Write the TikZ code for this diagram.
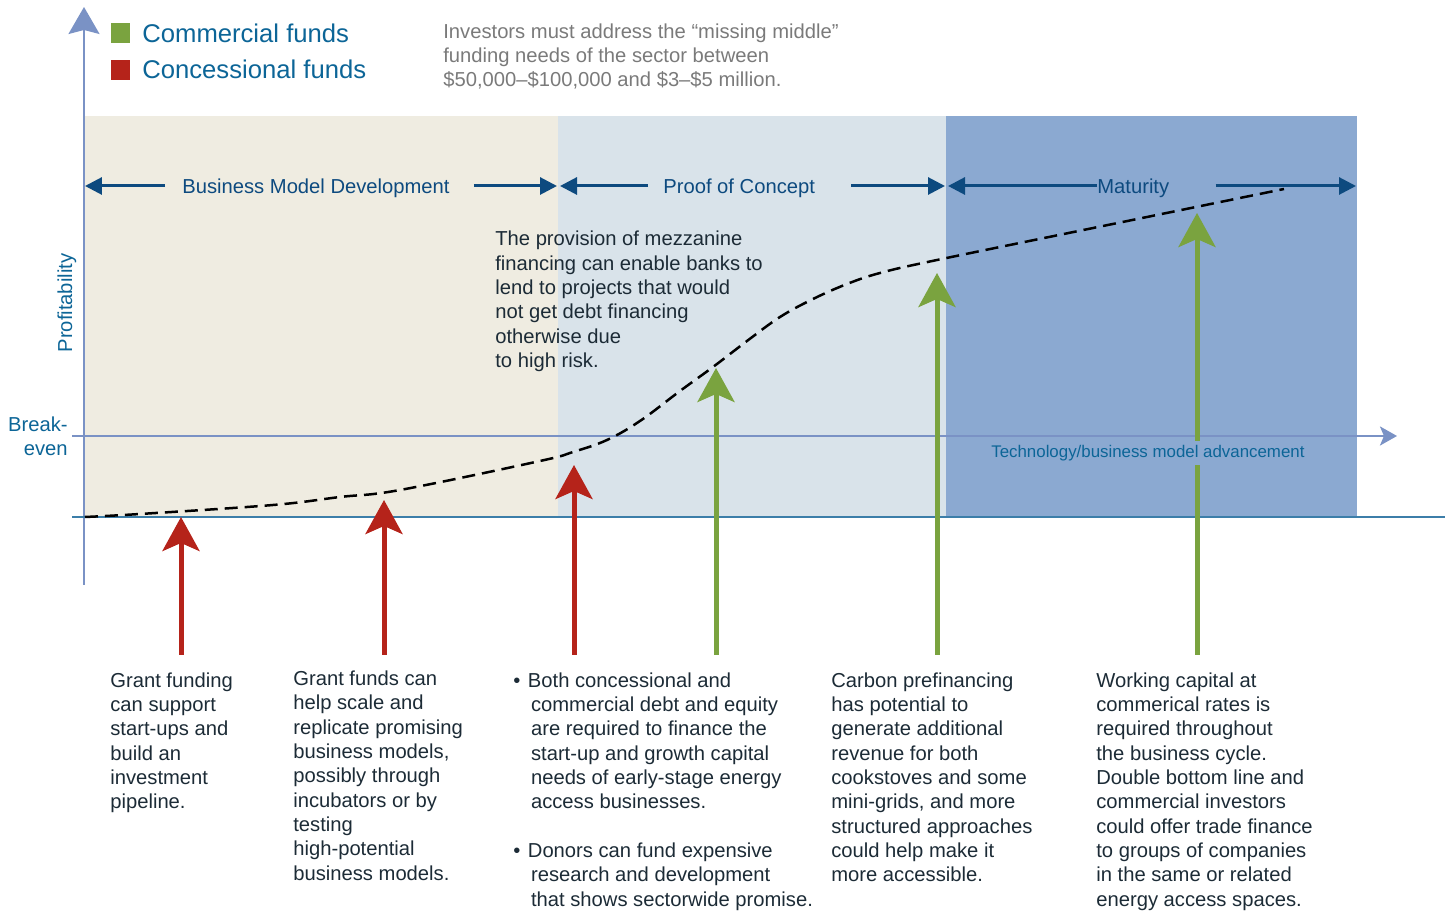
\documentclass[tikz,border=0pt]{standalone}
\usepackage{fontspec}
\setmainfont{Liberation Sans}
\usetikzlibrary{arrows.meta}

\definecolor{bmdbg}{HTML}{EFECE1}
\definecolor{pocbg}{HTML}{D9E3EA}
\definecolor{matbg}{HTML}{8BA9D1}
\definecolor{axisblue}{HTML}{7A92C5}
\definecolor{zeroteal}{HTML}{3C7EA9}
\definecolor{stageblue}{HTML}{0D4A7F}
\definecolor{labelblue}{HTML}{0C6597}
\definecolor{fundred}{HTML}{B5231A}
\definecolor{fundgreen}{HTML}{7AA33F}
\definecolor{notegray}{HTML}{7A7A7A}
\definecolor{inkdark}{HTML}{1C2B36}

\tikzset{blurb/.style={text=inkdark, font=\fontsize{11.5}{13.85}\selectfont,
        align=left, inner sep=0pt, anchor=north west},
    header/.style={blurb, text=notegray, font=\fontsize{11.5}{13.7}\selectfont},
    stagelabel/.style={text=stageblue, font=\fontsize{11.5}{13.7}\selectfont,
        inner sep=0pt, anchor=west, text height=0.29cm, text depth=0pt},
    stagearrow/.style={draw=stageblue, line width=0.06cm,
        -{Triangle[length=0.34cm,width=0.34cm]}},
    axisline/.style={draw=axisblue, line width=0.04cm},
    axislabel/.style={text=labelblue, font=\fontsize{11.5}{13.7}\selectfont, inner sep=0pt},
    zeroline/.style={draw=zeroteal, line width=0.04cm},
    fundarrow/.style={line width=0.1cm, -{Stealth[length=0.68cm,width=0.74cm,inset=0.16cm]}},
    legendbox/.style={minimum width=0.38cm, minimum height=0.4cm, inner sep=0pt},
    legendtext/.style={text=labelblue, font=\fontsize{14.6}{17}\selectfont,
        inner sep=0pt, anchor=base west},
    growthcurve/.style={line width=0.05cm, dash pattern=on 0.26cm off 0.14cm},
    }

\begin{document}
\begin{tikzpicture}[x=0.02cm, y=-0.02cm]
\useasboundingbox (0,0) rectangle (1448,911);
% stage backgrounds
\fill[bmdbg] (85,116) rectangle (558,517);
\fill[pocbg] (558,116) rectangle (946,517);
\fill[matbg] (946,116) rectangle (1357,517);

% axes
\coordinate (yfoot) at (84,585);
\coordinate (ytip) at (84,7);
\coordinate (beL) at (72,436);
\coordinate (beR) at (1397,436);
\coordinate (zeroL) at (72,517);
\coordinate (zeroR) at (1445,517);
\draw[axisline, -{Stealth[length=0.54cm,width=0.62cm,inset=0.08cm]}] (yfoot) -- (ytip);
\draw[axisline, line width=0.055cm, -{Stealth[length=0.34cm,width=0.38cm,inset=0.08cm]}] (beL) -- (beR);
\draw[zeroline] (zeroL) -- (zeroR);
\node[axislabel, rotate=90, anchor=base] (profit) at (72,303) {Profitability};
\node[axislabel, align=right, anchor=east] (breakeven) at (68,436) {Break-\\even};

% legend
\node[legendbox, fill=fundgreen] (commbox) at (120.5,33) {};
\node[legendbox, fill=fundred] (concbox) at (120.5,70) {};
\node[legendtext] (commtext) at (142,42.3) {Commercial funds};
\node[legendtext] (conctext) at (142,79) {Concessional funds};
\node[header] (gap) at (443,23.5) {Investors must address the “missing middle”\\
    funding needs of the sector between\\ \$50,000–\$100,000 and \$3–\$5 million.};

% stages
\coordinate (bmd-l) at (85,186);
\coordinate (bmd-r) at (557,186);
\coordinate (poc-l) at (560,186);
\coordinate (poc-r) at (945,186);
\coordinate (mat-l) at (948,186);
\coordinate (mat-r) at (1356,186);
\node[stagelabel] (bmd) at (182,186) {Business Model Development};
\node[stagelabel] (poc) at (663,186) {Proof of Concept};
\node[stagelabel] (mat) at (1097,186) {Maturity};
\draw[stagearrow] ([xshift=-0.34cm]bmd.west) -- (bmd-l);
\draw[stagearrow] ([xshift=0.48cm]bmd.east) -- (bmd-r);
\draw[stagearrow] ([xshift=-0.3cm]poc.west) -- (poc-l);
\draw[stagearrow] ([xshift=0.72cm]poc.east) -- (poc-r);
\draw[stagearrow] (mat.west) -- (mat-l);
\draw[stagearrow] ([xshift=0.92cm]mat.east) -- (mat-r);

% funding arrows
\foreach \x/\y/\col [count=\i] in {181/517/fundred, 384/500/fundred, 574/465/fundred,
    716/368/fundgreen, 937/273/fundgreen, 1197/213/fundgreen}{
    \coordinate (foot\i) at (\x,655);
    \coordinate (tip\i) at (\x,\y);
    \draw[fundarrow, draw=\col] (foot\i) -- (tip\i);
}
\node[text=labelblue, font=\fontsize{9.6}{11}\selectfont, fill=matbg, inner xsep=0.04cm,
    inner ysep=0.08cm, anchor=base west] (advance) at (989,457.5) {Technology/business model advancement};

% growth curve
\draw[growthcurve] plot[smooth, tension=0.6] coordinates {(85,517) (140,514) (273,505) (340,497)
    (400,490) (540,461) (573,452) (607,440) (640,421) (680,391) (713,367) (747,341) (780,317)
    (813,299) (847,284) (880,273) (937,260) (1125,221.5) (1284,189)};

% texts
\node[blurb] (mezz) at (495,231) {The provision of mezzanine\\ financing can enable banks to\\
    lend to projects that would\\ not get debt financing\\ otherwise due\\ to high risk.};
\node[blurb] (grant1) at (110,672.3) {Grant funding\\ can support\\ start-ups and\\ build an\\
    investment\\ pipeline.};
\node[blurb] (grant2) at (293,670.5) {Grant funds can\\ help scale and\\ replicate promising\\
    business models,\\ possibly through\\ incubators or by\\ testing\\ high-potential\\ business models.};
\node[blurb] (mixed) at (513,672.3) {•\hspace{0.15cm}Both concessional and\\
    \hspace*{0.354cm}commercial debt and equity\\ \hspace*{0.354cm}are required to finance the\\
    \hspace*{0.354cm}start-up and growth capital\\ \hspace*{0.354cm}needs of early-stage energy\\
    \hspace*{0.354cm}access businesses.\\[13.85pt]
    •\hspace{0.15cm}Donors can fund expensive\\ \hspace*{0.354cm}research and development\\
    \hspace*{0.354cm}that shows sectorwide promise.};
\node[blurb] (carbon) at (831,672.3) {Carbon prefinancing\\ has potential to\\ generate additional\\
    revenue for both\\ cookstoves and some\\ mini-grids, and more\\ structured approaches\\
    could help make it\\ more accessible.};
\node[blurb] (working) at (1096,672.3) {Working capital at\\ commerical rates is\\
    required throughout\\ the business cycle.\\ Double bottom line and\\ commercial investors\\
    could offer trade finance\\ to groups of companies\\ in the same or related\\ energy access spaces.};
\end{tikzpicture}
\end{document}
